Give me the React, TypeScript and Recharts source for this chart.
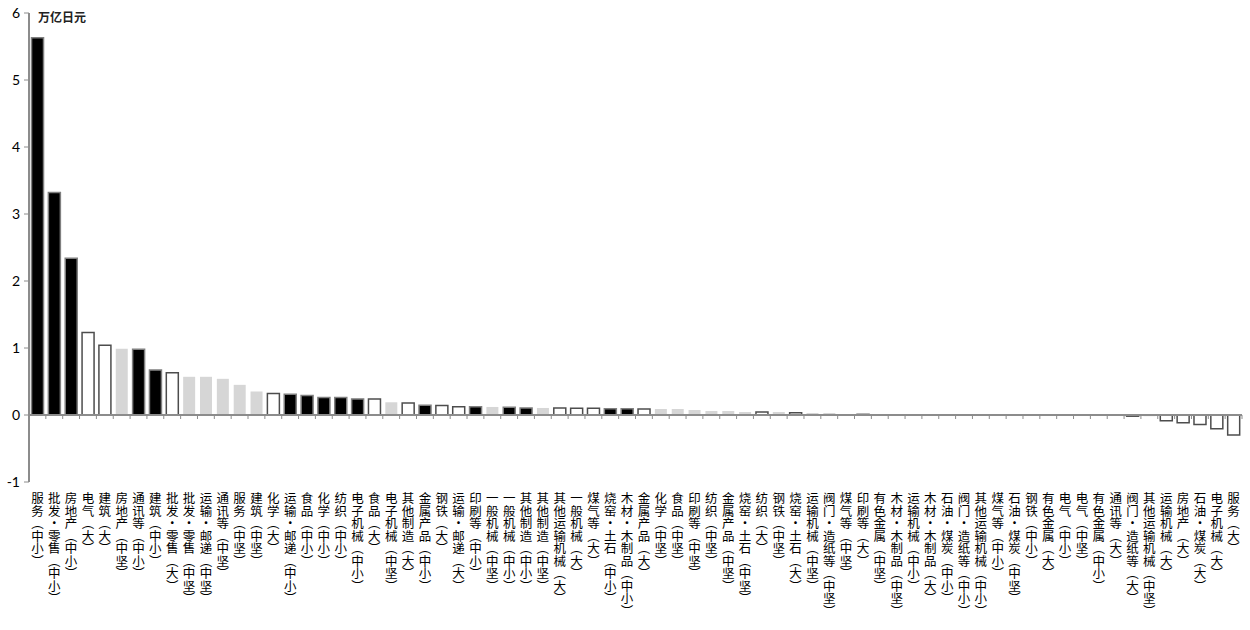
import { BarChart, Bar, XAxis, YAxis, Cell, ReferenceLine } from 'recharts'

// categories, sorted by value (descending)
const categories = [
  '服务（中小）', '批发・零售（中小）', '房地产（中小）', '电气（大）', '建筑（大）', '房地产（中坚）',
  '通讯等（中小）', '建筑（中小）', '批发・零售（大）', '批发・零售（中坚）', '运输・邮递（中坚）', '通讯等（中坚）',
  '服务（中坚）', '建筑（中坚）', '化学（大）', '运输・邮递（中小）', '食品（中小）', '化学（中小）',
  '纺织（中小）', '电子机械（中小）', '食品（大）', '电子机械（中坚）', '其他制造（大）', '金属产品（中小）',
  '钢铁（大）', '运输・邮递（大）', '印刷等（中小）', '一般机械（中坚）', '一般机械（中小）', '其他制造（中小）',
  '其他制造（中坚）', '其他运输机械（大）', '一般机械（大）', '煤气等（大）', '烧窑・土石（中小）', '木材・木制品（中小）',
  '金属产品（大）', '化学（中坚）', '食品（中坚）', '印刷等（中坚）', '纺织（中坚）', '金属产品（中坚）',
  '烧窑・土石（中坚）', '纺织（大）', '钢铁（中坚）', '烧窑・土石（大）', '运输机械（中坚）', '阀门・造纸等（中坚）',
  '煤气等（中坚）', '印刷等（大）', '有色金属（中坚）', '木材・木制品（中坚）', '运输机械（中小）', '木材・木制品（大）',
  '石油・煤炭（中小）', '阀门・造纸等（中小）', '其他运输机械（中小）', '煤气等（中小）', '石油・煤炭（中坚）', '钢铁（中小）',
  '有色金属（大）', '电气（中小）', '电气（中坚）', '有色金属（中小）', '通讯等（大）', '阀门・造纸等（大）',
  '其他运输机械（中坚）', '运输机械（大）', '房地产（大）', '石油・煤炭（大）', '电子机械（大）', '服务（大）',
]

// 万亿日元
const values = [
  5.63, 3.32, 2.34, 1.23, 1.04, 0.99,
  0.98, 0.67, 0.63, 0.57, 0.57, 0.54,
  0.45, 0.35, 0.32, 0.31, 0.29, 0.26,
  0.26, 0.24, 0.24, 0.19, 0.18, 0.145,
  0.14, 0.125, 0.125, 0.12, 0.115, 0.105,
  0.105, 0.105, 0.1, 0.1, 0.095, 0.095,
  0.09, 0.09, 0.09, 0.075, 0.06, 0.06,
  0.045, 0.045, 0.045, 0.035, 0.03, 0.03,
  0.012, 0.01, 0.01, 0.01, 0, 0,
  0, 0, 0, 0, 0, 0,
  0, 0, 0, 0, 0, -0.018,
  -0.018, -0.085, -0.115, -0.14, -0.205, -0.3,
]

const yTicks = [-1, 0, 1, 2, 3, 4, 5, 6]

const data = categories.map((name, i) => ({ name, value: values[i] }))

function sizeOf(name: string) {
  if (name.endsWith('（大）')) return 'large'
  if (name.endsWith('（中坚）')) return 'mid'
  return 'small'
}

function barFill(name: string) {
  const s = sizeOf(name)
  if (s === 'small') return '#000000'
  if (s === 'large') return '#ffffff'
  return '#d6d6d6'
}

function barStroke(name: string) {
  const s = sizeOf(name)
  if (s === 'small') return '#7f7f7f'
  if (s === 'large') return '#4d4d4d'
  return 'none'
}

function VerticalTick(props: any) {
  const { x, y, payload } = props
  return (
    <text
      x={x}
      y={y + 10}
      fill="#000"
      fontSize={12.5}
      fontFamily='"Noto Sans CJK SC", sans-serif'
      style={{ writingMode: 'vertical-rl' }}
    >
      {payload.value}
    </text>
  )
}

// zero line with category separator ticks
function ZeroAxis(props: any) {
  const { x1, x2, y1 } = props
  const n = categories.length
  const step = (x2 - x1) / n
  const ticks = []
  for (let i = 1; i <= n; i++) {
    const tx = x1 + step * i
    ticks.push(<line key={i} x1={tx} x2={tx} y1={y1} y2={y1 + 4} stroke="#8c8c8c" strokeWidth={1} />)
  }
  return (
    <g>
      <line x1={x1} x2={x2} y1={y1} y2={y1} stroke="#8c8c8c" strokeWidth={2} />
      {ticks}
    </g>
  )
}

export default function App() {
  return (
    <div style={{ position: 'absolute', left: 0, top: 0, width: 1250, height: 630, background: '#fff' }}>
      <BarChart
        width={1250}
        height={630}
        data={data}
        margin={{ top: 13, right: 8, bottom: 0, left: 0 }}
        barCategoryGap="15%"
      >
        <XAxis
          dataKey="name"
          interval={0}
          axisLine={false}
          tickLine={false}
          tickSize={0}
          tickMargin={0}
          height={148}
          tick={<VerticalTick />}
        />
        <YAxis
          domain={[-1, 6]}
          ticks={yTicks}
          width={29}
          axisLine={{ stroke: '#8c8c8c', strokeWidth: 2 }}
          tickLine={{ stroke: '#8c8c8c' }}
          tickSize={5}
          tickMargin={4}
          tick={{ fill: '#000', fontSize: 14, fontFamily: 'Lato, sans-serif' }}
        />
        <Bar dataKey="value" isAnimationActive={false} strokeWidth={1.5}>
          {data.map(d => (
            <Cell key={d.name} fill={barFill(d.name)} stroke={barStroke(d.name)} />
          ))}
        </Bar>
        <ReferenceLine y={0} shape={<ZeroAxis />} />
      </BarChart>
      <div
        style={{
          position: 'absolute', left: 38, top: 8, fontSize: 12, fontWeight: 'bold',
          fontFamily: '"Noto Sans CJK SC", sans-serif', color: '#222',
        }}
      >
        万亿日元
      </div>
    </div>
  )
}
